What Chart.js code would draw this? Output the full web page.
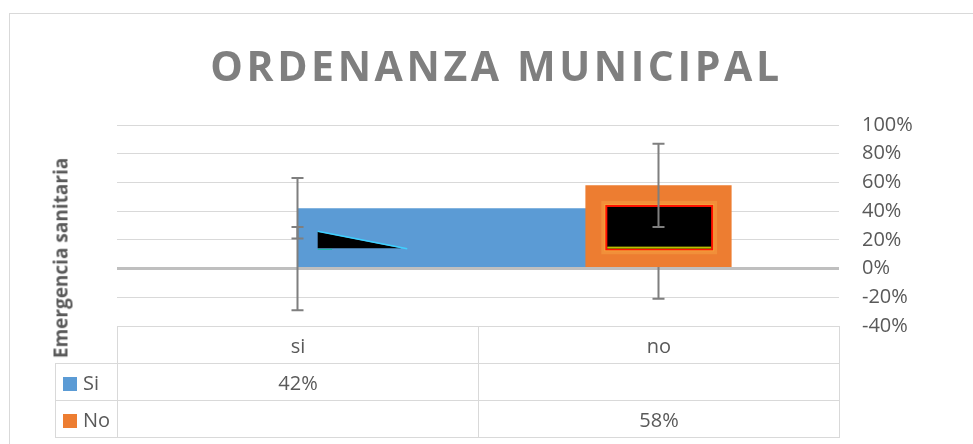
<!DOCTYPE html>
<html>
<head>
<meta charset="utf-8">
<script src="https://cdn.jsdelivr.net/npm/chart.js@4.4.1/dist/chart.umd.min.js"></script>
<style>
  body { margin: 0; background: #fff; font-family: "Open Sans", sans-serif; }
  #wrap { position: relative; width: 973px; height: 444px; overflow: hidden; }
  #frame { position: absolute; left: 9px; top: 13px; width: 1000px; height: 500px; border: 1px solid #d9d9d9; }
  #c { position: absolute; left: 0; top: 0; }
  #title { position: absolute; left: 10px; width: 973px; top: 45px; text-align: center;
           font: 700 41px/41px "Open Sans"; letter-spacing: 3.6px; color: #7f7f7f; white-space: nowrap; }
  #ytitle { position: absolute; left: 61px; top: 258px; transform: translate(-50%, -50%) rotate(-90deg);
            font: 700 19px/19px "Open Sans"; color: #595959; white-space: nowrap; }
  #tbl { position: absolute; left: 55px; top: 326px; border-collapse: collapse; table-layout: fixed;
         font: 20px "Open Sans"; color: #595959; }
  #tbl td { border: 1px solid #d9d9d9; text-align: center; padding: 0; height: 36px; }
  #tbl td.key { text-align: left; padding-left: 7px; white-space: nowrap; }
  #tbl td.blank { border-top: none; border-left: none; }
  .sw { display: inline-block; width: 14px; height: 14px; margin-right: 6px; vertical-align: -1px; }
</style>
</head>
<body>
<div id="wrap">
  <div id="frame"></div>
  <canvas id="c" width="973" height="444"></canvas>
  <div id="title">ORDENANZA MUNICIPAL</div>
  <div id="ytitle">Emergencia sanitaria</div>
  <table id="tbl">
    <colgroup><col style="width:62px"><col style="width:361px"><col style="width:361px"></colgroup>
    <tbody id="tbody"></tbody>
  </table>
</div>
<script>
const categories = ["si", "no"];
const siValues = [42, null];
const noValues = [null, 58];
const siErrors = [21, 21];
const noErrors = [29, 29];
const yTicks = [-40, -20, 0, 20, 40, 60, 80, 100];

const blue = "#5b9bd5";
const orange = "#ed7d31";

// data table under the plot (stands in for the legend too)
function buildTable() {
  let body = document.getElementById("tbody");
  let html = "<tr><td class='blank'></td>";
  for (let i = 0; i < categories.length; i++) {
    html += "<td>" + categories[i] + "</td>";
  }
  html += "</tr>";
  let rows = [["Si", siValues, blue], ["No", noValues, orange]];
  for (let r = 0; r < rows.length; r++) {
    html += "<tr><td class='key'><span class='sw' style='background:" + rows[r][2] + "'></span>" + rows[r][0] + "</td>";
    for (let i = 0; i < categories.length; i++) {
      let v = rows[r][1][i];
      html += "<td>" + (v === null ? "" : v + "%") + "</td>";
    }
    html += "</tr>";
  }
  body.innerHTML = html;
}
buildTable();

// the source bars carry a broken picture fill, dark patches inside them
function drawPatch(ctx, name, bar) {
  let L = bar.x - bar.width / 2, h = bar.base - bar.y, w = bar.width;
  if (name === "Si") {
    ctx.fillStyle = "#000";
    ctx.beginPath();
    ctx.moveTo(L + w * 0.07, bar.y + h * 0.40);
    ctx.lineTo(L + w * 0.36, bar.y + h * 0.68);
    ctx.lineTo(L + w * 0.07, bar.y + h * 0.68);
    ctx.closePath();
    ctx.fill();
    ctx.strokeStyle = "#3fd0ff";
    ctx.lineWidth = 1.5;
    ctx.beginPath();
    ctx.moveTo(L + w * 0.07, bar.y + h * 0.39);
    ctx.lineTo(L + w * 0.38, bar.y + h * 0.69);
    ctx.stroke();
    ctx.strokeStyle = "#1fb8a8";
    ctx.lineWidth = 1;
    ctx.beginPath();
    ctx.moveTo(L + w * 0.07, bar.y + h * 0.70);
    ctx.lineTo(L + w * 0.12, bar.y + h * 0.70);
    ctx.stroke();
  } else {
    let rx = L + w * 0.15, ry = bar.y + h * 0.265, rw = w * 0.71, rh = h * 0.505;
    ctx.fillStyle = "#f18f3a";
    ctx.fillRect(rx - 6, ry - 6, rw + 12, rh + 12);
    ctx.fillStyle = "#f7a23a";
    ctx.fillRect(rx - 3, ry - 3, rw + 6, rh + 6);
    ctx.fillStyle = "#ff1200";
    ctx.fillRect(rx - 2, ry - 2, rw + 4, rh + 4);
    ctx.fillStyle = "#000";
    ctx.fillRect(rx, ry, rw, rh);
    ctx.fillStyle = "#8c8a00";
    ctx.fillRect(rx, ry + rh - 1.5, rw, 2);
    ctx.fillStyle = "#c8d000";
    ctx.fillRect(rx, ry + rh - 1.5, rw, 1);
  }
}

// error bars drawn right after their own series, like the spreadsheet does
const errorBars = {
  id: "errorBars",
  afterDatasetDraw(chart, args) {
    let ds = chart.data.datasets[args.index];
    if (!ds.errors) return;
    let ctx = chart.ctx;
    let xs = chart.scales.x, ys = chart.scales.y;
    ctx.save();
    args.meta.data.forEach((bar, i) => {
      if (ds.data[i] !== null) drawPatch(ctx, ds.label, bar);
    });
    ctx.strokeStyle = "#7f7f7f";
    ctx.lineWidth = 2;
    ds.errors.forEach((e, i) => {
      let v = ds.data[i] === null ? 0 : ds.data[i];
      let px = xs.getPixelForValue(i);
      let top = ys.getPixelForValue(v + e);
      let bot = ys.getPixelForValue(v - e);
      ctx.beginPath();
      ctx.moveTo(px, top); ctx.lineTo(px, bot);
      ctx.moveTo(px - 6, top); ctx.lineTo(px + 6, top);
      ctx.moveTo(px - 6, bot); ctx.lineTo(px + 6, bot);
      ctx.stroke();
    });
    ctx.restore();
  }
};

new Chart(document.getElementById("c"), {
  type: "bar",
  data: {
    labels: categories,
    datasets: [
      { label: "No", data: noValues, grouped: false, backgroundColor: orange,
        categoryPercentage: 1, barPercentage: 0.405, errors: noErrors },
      // empty slot, so the Si bar lands right of the category centre like in the source
      { label: "", data: [], stack: "pad", categoryPercentage: 1.6, barPercentage: 1 },
      { label: "Si", data: siValues, stack: "si", backgroundColor: blue,
        categoryPercentage: 1.6, barPercentage: 1, errors: siErrors }
    ]
  },
  options: {
    responsive: false,
    animation: false,
    layout: { padding: { left: 117, top: 125, right: 0, bottom: 118 } },
    plugins: {
      legend: { display: false },
      title: { display: false },
      tooltip: { enabled: false }
    },
    scales: {
      x: { display: false },
      y: {
        position: "right",
        min: yTicks[0],
        max: yTicks[yTicks.length - 1],
        afterFit: s => { s.width = 134; },
        afterBuildTicks: s => { s.ticks = yTicks.map(v => ({ value: v })); },
        border: { display: false },
        grid: {
          drawTicks: false,
          color: c => c.tick && c.tick.value === 0 ? "#bfbfbf" : "#d9d9d9",
          lineWidth: c => c.tick && c.tick.value === 0 ? 3 : 1
        },
        ticks: {
          padding: 23,
          color: "#595959",
          font: { family: "Open Sans", size: 20 },
          callback: v => v + "%"
        }
      }
    }
  },
  plugins: [errorBars]
});
</script>
</body>
</html>
